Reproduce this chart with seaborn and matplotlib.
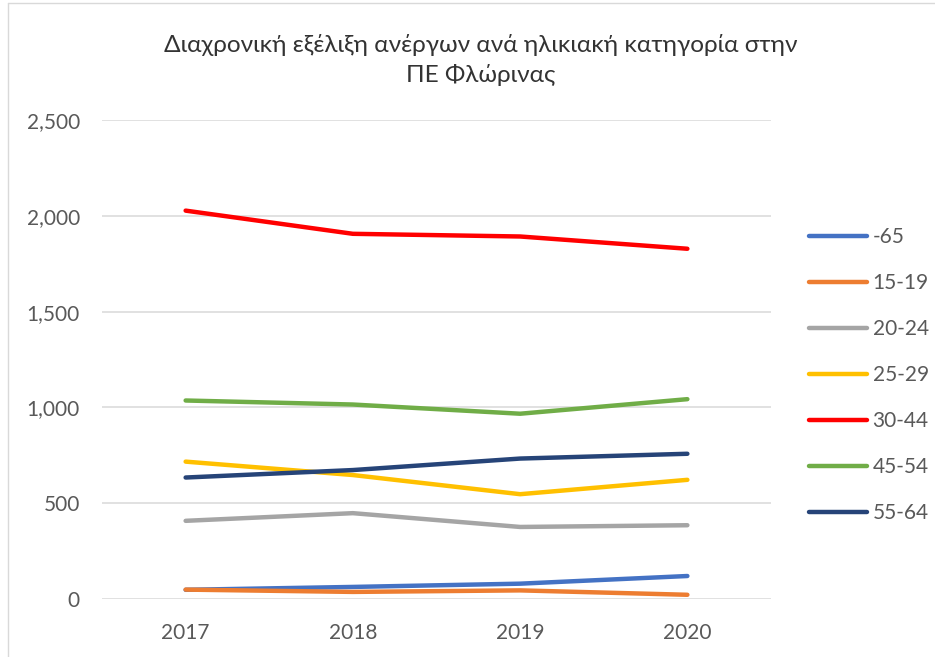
import matplotlib
matplotlib.use("Agg")
import matplotlib.pyplot as plt
import seaborn as sns
import pandas as pd
from matplotlib.ticker import FuncFormatter, MultipleLocator
from matplotlib.lines import Line2D

years = ["2017", "2018", "2019", "2020"]
groups = ["-65", "15-19", "20-24", "25-29", "30-44", "45-54", "55-64"]
v_65 = [48, 63, 80, 120]
v_15_19 = [49, 37, 45, 22]
v_20_24 = [408, 448, 376, 385]
v_25_29 = [717, 647, 547, 622]
v_30_44 = [2027, 1906, 1892, 1828]
v_45_54 = [1036, 1015, 967, 1043]
v_55_64 = [634, 673, 733, 758]
colors = ["#4472C4", "#ED7D31", "#A5A5A5", "#FFC000", "#FF0000", "#70AD47", "#264478"]
title = "Διαχρονική εξέλιξη ανέργων ανά ηλικιακή κατηγορία στην\nΠΕ Φλώρινας"

series = [v_65, v_15_19, v_20_24, v_25_29, v_30_44, v_45_54, v_55_64]
rows = []
for g, vals in zip(groups, series):
    for y, v in zip(years, vals):
        rows.append({"Έτος": y, "Ομάδα": g, "Άνεργοι": v})
df = pd.DataFrame(rows)

sns.set_theme(style="white")
plt.rcParams["font.family"] = ["Lato", "DejaVu Sans"]

fig = plt.figure(figsize=(9.35, 6.57), dpi=100)
ax = fig.add_axes([102/935, 1-599/657, (771-102)/935, (599-120)/657])

sns.lineplot(data=df, x="Έτος", y="Άνεργοι", hue="Ομάδα", hue_order=groups,
             palette=dict(zip(groups, colors)), linewidth=3.2, ax=ax,
             sort=False, legend=True)
for ln in ax.lines:
    ln.set_solid_capstyle("round")

ax.set_xlim(-0.5, 3.5)
ax.set_ylim(0, 2500)
ax.yaxis.set_major_locator(MultipleLocator(500))
ax.yaxis.set_major_formatter(FuncFormatter(lambda v, p: f"{v:,.0f}"))
ax.grid(axis="y", color="#D9D9D9", linewidth=1.1)
ax.set_axisbelow(True)
for s in ax.spines.values():
    s.set_visible(False)
ax.set_xlabel("")
ax.set_ylabel("")
ax.tick_params(axis="y", length=0, pad=16, labelsize=15, labelcolor="#595959")
ax.tick_params(axis="x", length=0, pad=17, labelsize=15, labelcolor="#595959")

handles, labels = ax.get_legend_handles_labels()
ax.get_legend().remove()
leg = fig.legend(handles, labels, loc="center left",
                 bbox_to_anchor=(809/935, 1-375/657), bbox_transform=fig.transFigure,
                 frameon=False, fontsize=15, handlelength=2.8, handletextpad=0.25,
                 labelspacing=1.25, borderpad=0, borderaxespad=0)
for t in leg.get_texts():
    t.set_color("#595959")
for h in leg.get_lines():
    h.set_linewidth(3.2)
    h.set_solid_capstyle("round")

fig.text(481/935, 1-60/657, title, ha="center", va="center", fontsize=17.6,
         color="#333333", linespacing=1.4)

fig.add_artist(Line2D([8/935, 8/935], [0, 1-3/657], transform=fig.transFigure,
                      color="#D9D9D9", linewidth=1))
fig.add_artist(Line2D([8/935, 1], [1-3/657, 1-3/657], transform=fig.transFigure,
                      color="#D9D9D9", linewidth=1))

fig.savefig("out.png", dpi=100)
